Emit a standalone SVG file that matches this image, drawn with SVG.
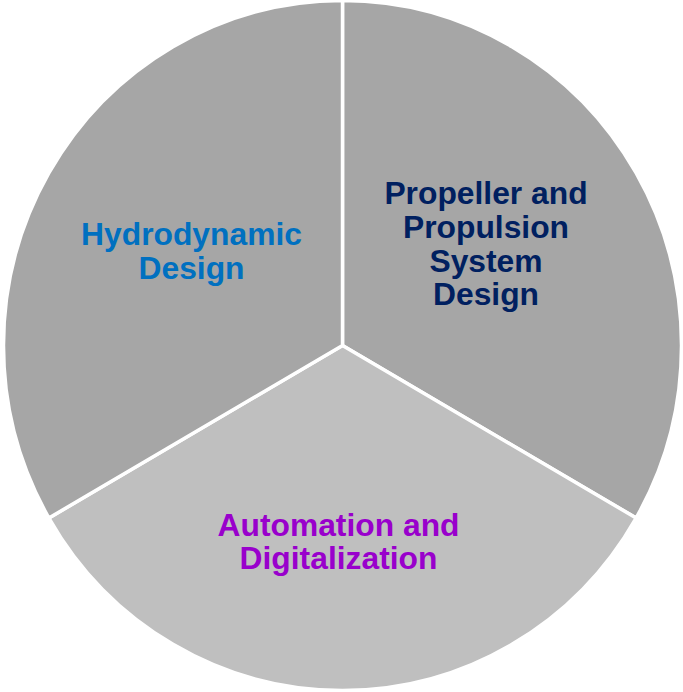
<svg xmlns="http://www.w3.org/2000/svg" width="683" height="692" viewBox="0 0 683 692">
  <style>
    .slice { stroke: #ffffff; stroke-width: 3.5; stroke-linejoin: miter; }
    .dark { fill: #a6a6a6; }
    .light { fill: #bfbfbf; }
    .label { font-family: "Liberation Sans", Arial, sans-serif; font-weight: bold; font-size: 31.8px; text-anchor: middle; }
  </style>
  <rect width="683" height="692" fill="#ffffff"/>

  <!-- upper-right sector -->
  <g id="propulsion">
    <path class="slice dark" d="M342.5,345.5 L342.5,0.5 A339,345 0 0 1 636.1,518 Z"/>
    <text class="label" fill="#002060" x="486" y="204">Propeller and</text>
    <text class="label" fill="#002060" x="486" y="238">Propulsion</text>
    <text class="label" fill="#002060" x="486" y="271.5">System</text>
    <text class="label" fill="#002060" x="486" y="305">Design</text>
  </g>

  <!-- lower sector -->
  <g id="automation">
    <path class="slice light" d="M342.5,345.5 L636.1,518 A339,345 0 0 1 48.9,518 Z"/>
    <text class="label" fill="#9900cc" x="338.5" y="536">Automation and</text>
    <text class="label" fill="#9900cc" x="338.5" y="568.5">Digitalization</text>
  </g>

  <!-- upper-left sector -->
  <g id="hydrodynamic">
    <path class="slice dark" d="M342.5,345.5 L48.9,518 A339,345 0 0 1 342.5,0.5 Z"/>
    <text class="label" fill="#0070c0" x="191.5" y="245">Hydrodynamic</text>
    <text class="label" fill="#0070c0" x="191.5" y="278.5">Design</text>
  </g>

  <g id="connectors"/>
</svg>
